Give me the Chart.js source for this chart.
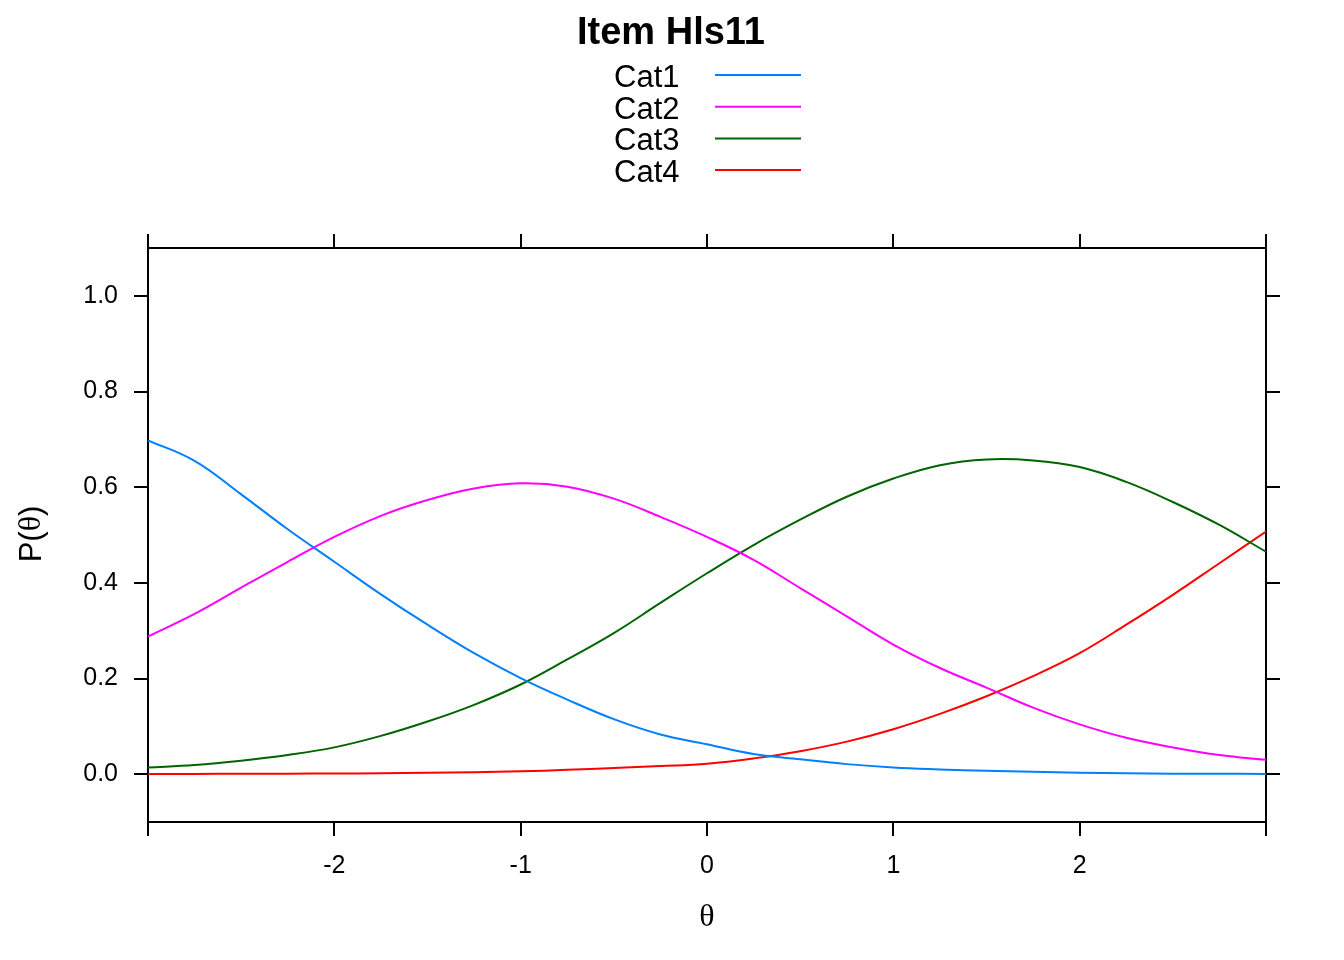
<!DOCTYPE html>
<html>
<head>
<meta charset="utf-8">
<title>Item Hls11</title>
<script src="https://cdn.jsdelivr.net/npm/chart.js@4"></script>
<style>
  body { margin: 0; background: #fff; }
  #wrap { width: 1344px; height: 960px; }
</style>
</head>
<body>
<div id="wrap"><canvas id="myChart" width="1344" height="960"></canvas></div>
<script>
// theta grid
var theta = [-3, -2.75, -2.5, -2.25, -2, -1.75, -1.5, -1.25, -1, -0.75, -0.5, -0.25, 0,
             0.25, 0.5, 0.75, 1, 1.25, 1.5, 1.75, 2, 2.25, 2.5, 2.75, 3];

var cat1 = [0.698, 0.655, 0.585, 0.512, 0.444, 0.376, 0.3125, 0.253, 0.201, 0.156, 0.115, 0.083, 0.0625,
            0.042, 0.031, 0.021, 0.014, 0.010, 0.007, 0.005, 0.003, 0.002, 0.001, 0.001, 0.0005];
var cat2 = [0.288, 0.335, 0.390, 0.444, 0.496, 0.540, 0.573, 0.597, 0.608, 0.601, 0.576, 0.538, 0.496,
            0.448, 0.389, 0.330, 0.271, 0.222, 0.181, 0.139, 0.104, 0.076, 0.056, 0.040, 0.030];
var cat3 = [0.014, 0.019, 0.028, 0.040, 0.056, 0.080, 0.110, 0.145, 0.1875, 0.240, 0.295, 0.358, 0.420,
            0.479, 0.532, 0.580, 0.618, 0.646, 0.658, 0.656, 0.642, 0.611, 0.569, 0.521, 0.465];
var cat4 = [0.0005, 0.0006, 0.0008, 0.001, 0.0014, 0.002, 0.003, 0.004, 0.006, 0.009, 0.013, 0.017, 0.022,
            0.033, 0.048, 0.068, 0.094, 0.126, 0.163, 0.205, 0.253, 0.3125, 0.375, 0.441, 0.507];

var catNames = ["Cat1", "Cat2", "Cat3", "Cat4"];
var catColors = ["#0080ff", "#ff00ff", "#006400", "#ff0000"];

var xTicks = [-3, -2, -1, 0, 1, 2, 3];
var xLabelled = [-2, -1, 0, 1, 2];
var yTicks = [0, 0.2, 0.4, 0.6, 0.8, 1.0];

var titleText = "Item Hls11";

function toPoints(vals) {
  return theta.map(function (t, i) { return { x: t, y: vals[i] }; });
}

var allCats = [cat1, cat2, cat3, cat4];
var datasets = allCats.map(function (vals, i) {
  return {
    label: catNames[i],
    data: toPoints(vals),
    borderColor: catColors[i],
    borderWidth: 2,
    pointRadius: 0,
    fill: false,
    tension: 0.4
  };
});

var SANS = '"Liberation Sans", Arial, sans-serif';
var SERIF = '"Liberation Serif", "Times New Roman", serif';

function setTicks(list) {
  return function (scale) {
    scale.ticks = list.map(function (v) { return { value: v }; });
  };
}

var gridOpts = { drawOnChartArea: false, tickLength: 14, color: "#000", lineWidth: 2 };
var borderOpts = { display: true, color: "#000", width: 2 };

// title, legend (text then line) and axis titles, drawn on top
var lattice = {
  id: "lattice",
  afterDraw: function (chart) {
    var ctx = chart.ctx;
    var area = chart.chartArea;
    ctx.save();
    ctx.fillStyle = "#000";

    ctx.font = "bold 38px " + SANS;
    ctx.textAlign = "center";
    ctx.textBaseline = "alphabetic";
    ctx.fillText(titleText, 671, 44);

    ctx.font = "31px " + SANS;
    ctx.textAlign = "left";
    chart.data.datasets.forEach(function (ds, i) {
      var ly = 75 + i * 31.7;
      ctx.fillStyle = "#000";
      ctx.fillText(ds.label, 614, ly + 12);
      ctx.strokeStyle = ds.borderColor;
      ctx.lineWidth = 2;
      ctx.beginPath();
      ctx.moveTo(715, ly);
      ctx.lineTo(801, ly);
      ctx.stroke();
    });

    // y axis title P(θ)
    ctx.translate(32, 534);
    ctx.rotate(-Math.PI / 2);
    ctx.textBaseline = "middle";
    var partA = "P(", partB = "\u03b8", partC = ")";
    ctx.font = "31px " + SANS;
    var wA = ctx.measureText(partA).width, wC = ctx.measureText(partC).width;
    ctx.font = "32px " + SERIF;
    var wB = ctx.measureText(partB).width;
    var x0 = -(wA + wB + wC) / 2;
    ctx.textAlign = "left";
    ctx.font = "31px " + SANS;
    ctx.fillText(partA, x0, 0);
    ctx.font = "32px " + SERIF;
    ctx.fillText(partB, x0 + wA, 0);
    ctx.font = "31px " + SANS;
    ctx.fillText(partC, x0 + wA + wB, 0);
    ctx.setTransform(1, 0, 0, 1, 0, 0);

    // x axis title θ
    ctx.font = "32px " + SERIF;
    ctx.textAlign = "center";
    ctx.textBaseline = "middle";
    ctx.fillText("\u03b8", (area.left + area.right) / 2, 918);
    ctx.restore();
  }
};

var ctx = document.getElementById("myChart").getContext("2d");
var chart = new Chart(ctx, {
  type: "line",
  data: { datasets: datasets },
  options: {
    responsive: false,
    animation: false,
    layout: { padding: 0 },
    plugins: {
      legend: { display: false },
      title: { display: false },
      tooltip: { enabled: false }
    },
    scales: {
      x: {
        type: "linear", position: "bottom", min: -3, max: 3,
        afterBuildTicks: setTicks(xTicks),
        afterFit: function (s) { s.height = 138; },
        ticks: {
          color: "#000", font: { family: SANS, size: 25 }, padding: 15, maxRotation: 0, autoSkip: false,
          callback: function (v) { return xLabelled.indexOf(v) >= 0 ? String(v) : ""; }
        },
        grid: gridOpts, border: borderOpts
      },
      xTop: {
        type: "linear", position: "top", min: -3, max: 3,
        afterBuildTicks: setTicks(xTicks),
        afterFit: function (s) { s.height = 248; },
        ticks: { display: false },
        grid: gridOpts, border: borderOpts
      },
      y: {
        type: "linear", position: "left", min: -0.1, max: 1.1,
        afterBuildTicks: setTicks(yTicks),
        afterFit: function (s) { s.width = 148; },
        ticks: {
          color: "#000", font: { family: SANS, size: 25 }, padding: 16,
          callback: function (v) { return v.toFixed(1); }
        },
        grid: gridOpts, border: borderOpts
      },
      yRight: {
        type: "linear", position: "right", min: -0.1, max: 1.1,
        afterBuildTicks: setTicks(yTicks),
        afterFit: function (s) { s.width = 78; },
        ticks: { display: false },
        grid: gridOpts, border: borderOpts
      }
    }
  },
  plugins: [lattice]
});
</script>
</body>
</html>
